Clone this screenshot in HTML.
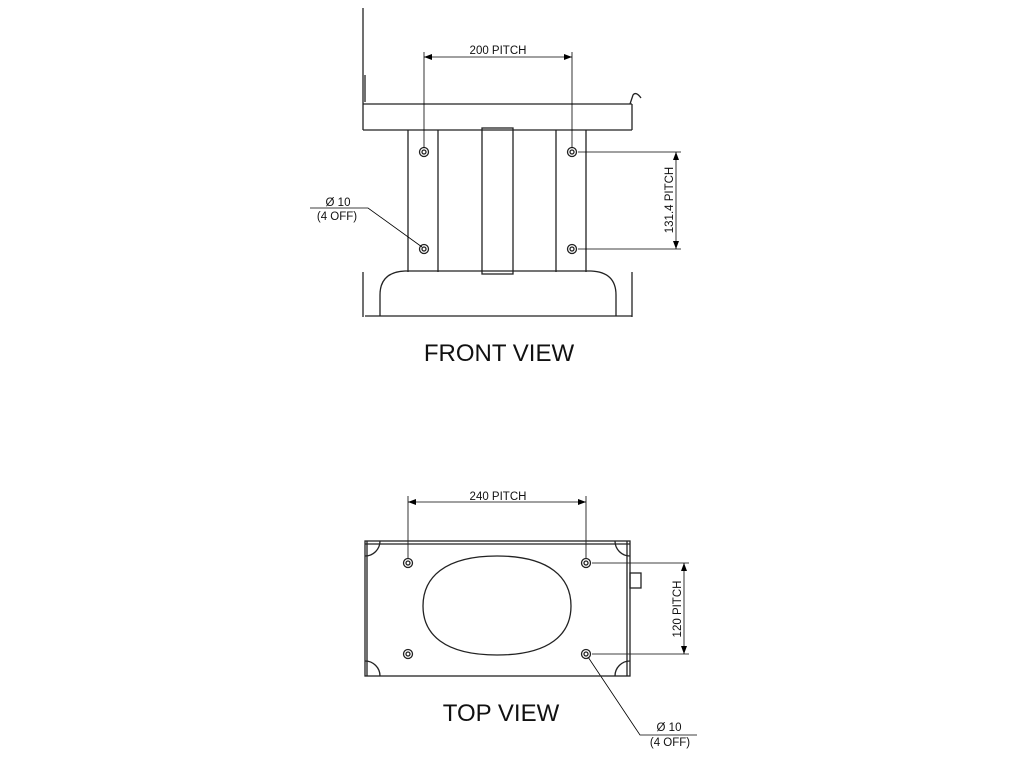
<!DOCTYPE html>
<html><head><style>body{margin:0;background:#fff}svg{display:block}</style></head><body>
<svg width="1024" height="768" viewBox="0 0 1024 768" xmlns="http://www.w3.org/2000/svg" font-family="Liberation Sans, sans-serif">
<defs><marker id="a" markerWidth="8" markerHeight="6" refX="8" refY="3" orient="auto-start-reverse" markerUnits="userSpaceOnUse"><path d="M0,0 L8,3 L0,6 z" fill="#000"/></marker></defs>
<g stroke="#222" stroke-width="1.3" fill="none">
<line x1="363" y1="8" x2="363" y2="130"/><line x1="365" y1="75" x2="365" y2="102"/>
<line x1="363" y1="104" x2="632" y2="104"/><line x1="363" y1="130" x2="632" y2="130"/>
<line x1="632" y1="104" x2="632" y2="130"/>
<path d="M630,104 L633,95 Q636,91 641,98"/>
<line x1="408" y1="130" x2="408" y2="272"/><line x1="438" y1="130" x2="438" y2="272"/>
<line x1="556" y1="130" x2="556" y2="272"/><line x1="586" y1="130" x2="586" y2="272"/>
<rect x="482" y="128" width="31" height="146"/>
<path d="M380,316 L380,295 Q380,272 405,271 L591,271 Q616,272 616,295 L616,316"/>
<line x1="365" y1="316" x2="632" y2="316"/>
<line x1="363" y1="272" x2="363" y2="317"/><line x1="632" y1="272" x2="632" y2="317"/>
<circle cx="424" cy="152" r="4.5"/><circle cx="424" cy="152" r="2"/>
<circle cx="572" cy="152" r="4.5"/><circle cx="572" cy="152" r="2"/>
<circle cx="424" cy="249" r="4.5"/><circle cx="424" cy="249" r="2"/>
<circle cx="572" cy="249" r="4.5"/><circle cx="572" cy="249" r="2"/>
</g>
<g stroke="#000" stroke-width="0.8" fill="none">
<line x1="424" y1="52" x2="424" y2="148"/><line x1="572" y1="52" x2="572" y2="148"/>
<line x1="424" y1="57" x2="572" y2="57" marker-start="url(#a)" marker-end="url(#a)"/>
<line x1="578" y1="152" x2="681" y2="152"/><line x1="578" y1="249" x2="681" y2="249"/>
<line x1="676" y1="152" x2="676" y2="249" marker-start="url(#a)" marker-end="url(#a)"/>
<polyline points="310,208 368,208 422,247"/>
<line x1="408" y1="496" x2="408" y2="559"/><line x1="586" y1="496" x2="586" y2="559"/>
<line x1="408" y1="502" x2="586" y2="502" marker-start="url(#a)" marker-end="url(#a)"/>
<line x1="592" y1="563" x2="689" y2="563"/><line x1="592" y1="654" x2="689" y2="654"/>
<line x1="684" y1="563" x2="684" y2="654" marker-start="url(#a)" marker-end="url(#a)"/>
<polyline points="588,657 640,735 697,735"/>
</g>
<g stroke="#222" stroke-width="1.3" fill="none">
<rect x="365" y="541" width="265" height="135"/>
<line x1="365" y1="544" x2="630" y2="544"/><line x1="367" y1="541" x2="367" y2="676"/>
<line x1="627" y1="541" x2="627" y2="676"/>
<path d="M365,556 A15,15 0 0 0 380,541"/><path d="M615,541 A15,15 0 0 0 630,556"/>
<path d="M365,661 A15,15 0 0 1 380,676"/><path d="M615,676 A15,15 0 0 1 630,661"/>
<rect x="630" y="573" width="11" height="15"/>
<path d="M497,556 C550,556 571,578 571,606 C571,634 550,655 497,655 C444,655 423,634 423,606 C423,578 444,556 497,556 Z"/>
<circle cx="408" cy="563" r="4.5"/><circle cx="408" cy="563" r="2"/>
<circle cx="586" cy="563" r="4.5"/><circle cx="586" cy="563" r="2"/>
<circle cx="408" cy="654" r="4.5"/><circle cx="408" cy="654" r="2"/>
<circle cx="586" cy="654" r="4.5"/><circle cx="586" cy="654" r="2"/>
</g>
<g fill="#111" font-size="11.5">
<text x="498" y="54" text-anchor="middle">200  PITCH</text>
<text x="498" y="500" text-anchor="middle">240  PITCH</text>
<text transform="translate(673,200) rotate(-90)" text-anchor="middle">131.4  PITCH</text>
<text transform="translate(681,609) rotate(-90)" text-anchor="middle">120  PITCH</text>
<text x="338" y="206" text-anchor="middle">Ø 10</text>
<text x="337" y="220" text-anchor="middle">(4 OFF)</text>
<text x="669" y="731" text-anchor="middle">Ø 10</text>
<text x="670" y="746" text-anchor="middle">(4 OFF)</text>
<text x="499" y="361" text-anchor="middle" font-size="24">FRONT VIEW</text>
<text x="501" y="721" text-anchor="middle" font-size="24">TOP VIEW</text>
</g>
</svg>
</body></html>
